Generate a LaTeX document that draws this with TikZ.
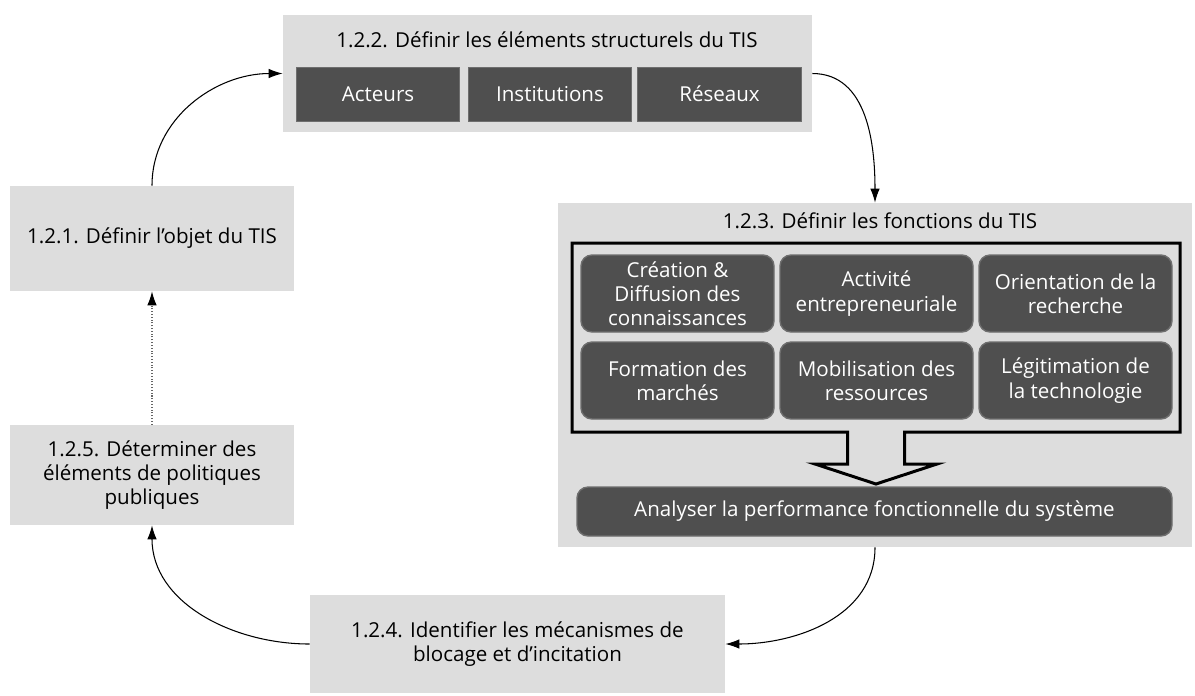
\documentclass[tikz,border=0pt]{standalone}
\usepackage{fontspec}
\setmainfont{Open Sans}
\usepackage{tikz}
\usetikzlibrary{arrows.meta}
\definecolor{boxgray}{HTML}{DDDDDD}
\definecolor{darkbox}{HTML}{4F4F4F}
\definecolor{darkedge}{HTML}{6E6E6E}
\begin{document}
\begin{tikzpicture}[font=\fontsize{11.7}{13.8}\selectfont,
   etape/.style={fill=boxgray,inner sep=0pt,align=center},
   acteur/.style={fill=darkbox,draw=darkedge,text=white,inner sep=0pt,
                  minimum width=3.27cm,minimum height=1.08cm},
   fonction/.style={fill=darkbox,draw=darkedge,line width=0.8pt,text=white,
                    rounded corners=0.22cm,inner sep=0pt,align=center,
                    minimum width=3.86cm,minimum height=1.54cm},
   fleche/.style={->,line width=0.6pt},
   >={Latex[length=2.8mm,width=1.9mm]}]
   \useasboundingbox (0,0) rectangle (23.9,-13.9);
   \node[etape,minimum width=10.58cm,minimum height=2.34cm] (e122) at (10.95,-1.47) {};
   \node (t122) at (10.94,-0.80) {1.2.2. Définir les éléments structurels du TIS};
   \node[acteur] (acteurs) at (7.56,-1.88) {Acteurs};
   \node[acteur] (institutions) at (11.00,-1.88) {Institutions};
   \node[acteur] (reseaux) at (14.39,-1.88) {Réseaux};
   \node[etape,minimum width=5.68cm,minimum height=2.10cm] (e121) at (3.04,-4.77)
      {1.2.1. Définir l’objet du TIS};
   \node[etape,minimum width=5.68cm,minimum height=2.00cm] (e125) at (3.04,-9.50)
      {1.2.5. Déterminer des\\éléments de politiques\\publiques};
   \node[etape,minimum width=12.68cm,minimum height=6.88cm] (e123) at (17.50,-7.50) {};
   \node (t123) at (17.60,-4.42) {1.2.3. Définir les fonctions du TIS};
   \draw[line width=1.7pt,miter limit=20]
      (16.95,-8.64) -- (11.44,-8.64) -- (11.44,-4.86) -- (23.60,-4.86) -- (23.60,-8.64)
      -- (18.09,-8.64) -- (18.09,-9.28) -- (18.74,-9.28) -- (17.52,-9.68)
      -- (16.30,-9.28) -- (16.95,-9.28) -- cycle;
   \node[fonction] (f1) at (13.55,-5.87) {Création \&\\Diffusion des\\connaissances};
   \node[fonction] (f2) at (17.53,-5.87) {Activité\\entrepreneuriale};
   \node[fonction] (f3) at (21.51,-5.87) {Orientation de la\\recherche};
   \node[fonction] (f4) at (13.55,-7.61) {Formation des\\marchés};
   \node[fonction] (f5) at (17.53,-7.61) {Mobilisation des\\ressources};
   \node[fonction] (f6) at (21.51,-7.61) {Légitimation de\\la technologie};
   \node[fonction,minimum width=11.90cm,minimum height=0.98cm] (perf) at (17.49,-10.23)
      {Analyser la performance fonctionnelle du système};
   \node[etape,minimum width=8.30cm,minimum height=1.96cm] (e124) at (10.35,-12.88)
      {1.2.4. Identifier les mécanismes de\\blocage et d’incitation};
   \draw[fleche] (e121.north) to[out=90,in=180] (e122.west);
   \draw[fleche] (e122.east) to[out=0,in=90] (e123.north);
   \draw[fleche] (e123.south) to[out=-90,in=0] (e124.east);
   \draw[fleche] (e124.west) to[out=180,in=-90] (e125.south);
   \draw[fleche,densely dotted,draw=black!60,-{Latex[length=2.8mm,width=1.9mm,black]}]
      (e125.north) -- (e121.south);
\end{tikzpicture}
\end{document}
